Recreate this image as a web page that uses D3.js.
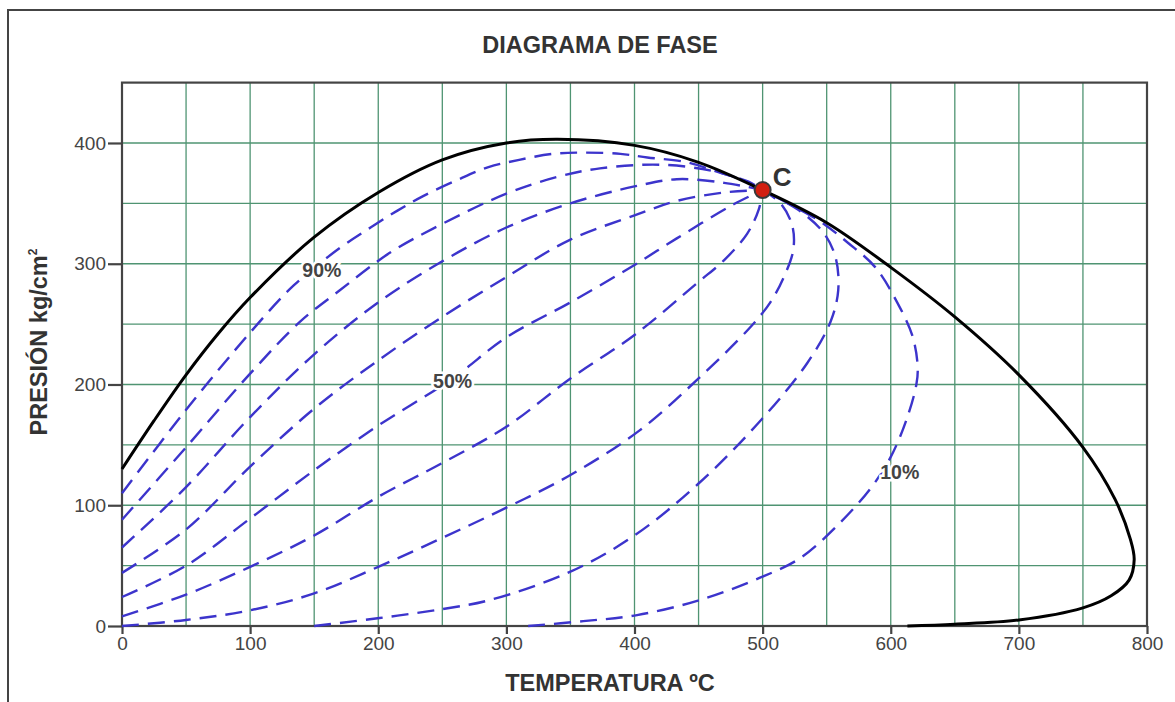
<!DOCTYPE html>
<html>
<head>
<meta charset="utf-8">
<script src="https://cdn.jsdelivr.net/npm/d3@7"></script>
<style>
  body { margin: 0; background: #fff; }
  svg { display: block; font-family: "Liberation Sans", Arial, Helvetica, sans-serif; }
</style>
</head>
<body>
<svg id="chart" width="1175" height="702"></svg>
<script>
// ---- data: temperature (ºC) / pressure (kg/cm²) ----
const tempTicks = [0, 100, 200, 300, 400, 500, 600, 700, 800];
const presTicks = [0, 100, 200, 300, 400];

// phase envelope (bubble + dew curve)
const envelope = [
  [0,130],[25,170],[50,208],[75,242],[100,272],[150,322],[200,359],[250,386],
  [300,400],[340,403],[400,398],[450,384],[500,361],[550,334],[600,297],
  [650,256],[700,208],[750,148],[775,105],[787,72],[790,55],[786,38],
  [772,25],[750,15],[700,5],[650,1.5],[613,0]
];

// iso-quality lines (vapour fraction)
const q90 = [[0,110],[50,179],[100,243],[134,282],[170,313],[194,330],[215,344],[235,356],[261,369],[286,380],[310,386],[336,391],[361,392],[389,391],[410,388],[441,384],[468,375],[489,368],[500,361]];
const q80 = [[0,88],[50,148],[100,209],[139,252],[170,278],[209,309],[250,333],[300,358],[340,372],[373,379],[420,382],[460,377],[485,369],[500,361]];
const q70 = [[0,65],[50,115],[100,173],[150,225],[200,268],[250,302],[300,330],[350,350],[400,364],[433,370],[470,367],[500,361]];
const q60 = [[0,44],[50,80],[100,132],[150,180],[200,220],[250,256],[300,289],[350,320],[400,340],[433,352],[470,359],[500,361]];
const q50 = [[0,24],[50,50],[100,89],[150,129],[200,166],[258,205],[300,239],[350,268],[400,299],[433,321],[477,349],[500,361]];
const q40 = [[0,8],[50,26],[100,49],[150,75],[200,107],[250,135],[300,165],[350,205],[400,241],[450,285],[470,303],[488,325],[497,345],[500,361]];
const q30 = [[0,0],[50,5],[100,13],[150,27],[200,49],[250,73],[300,98],[350,125],[404,162],[450,205],[490,247],[506,268],[517,290],[524,312],[523,332],[514,350],[500,361]];
const q20 = [[150,0],[201,6.6],[250,14],[287,21.5],[350,45],[400,75],[450,118],[500,172],[535,218],[553,252],[559,278],[557,305],[548,325],[530,343],[500,361]];
const q10 = [[317,0],[360,4],[402,9],[451,21.5],[498,40],[529,56],[560,85],[585,115],[600,140],[612,170],[620,200],[621,215],[617,240],[605,268],[588,297],[567,317],[545,335],[520,350],[500,361]];
const qualityLines = [q90, q80, q70, q60, q50, q40, q30, q20, q10];

// labelled iso-lines and the critical point
const lineLabels = [
  { text: "90%", T: 156, P: 295 },
  { text: "50%", T: 258, P: 203 },
  { text: "10%", T: 607, P: 127 }
];
const critical = { T: 500, P: 361, name: "C" };

// ---- layout ----
const svg = d3.select("#chart");
const x = d3.scaleLinear().domain([0, 800]).range([122, 1147]);
const y = d3.scaleLinear().domain([0, 450]).range([626, 82.6]);
const ink = "#444";

// outer frame
svg.append("path")
  .attr("d", "M8,702V10H1175")
  .attr("fill", "none").attr("stroke", ink).attr("stroke-width", 2);

// title
svg.append("text")
  .attr("x", 600).attr("y", 53)
  .attr("text-anchor", "middle")
  .attr("font-size", 23.5).attr("font-weight", "bold").attr("fill", "#333")
  .text("DIAGRAMA DE FASE");

// grid every 50 units
const gridColor = "#4f9472";
const g = svg.append("g");
g.selectAll("line.v").data(d3.range(50, 800, 50)).join("line")
  .attr("x1", d => x(d)).attr("x2", d => x(d))
  .attr("y1", y(0)).attr("y2", y(450))
  .attr("stroke", gridColor).attr("stroke-width", 1.3);
g.selectAll("line.h").data(d3.range(50, 450, 50)).join("line")
  .attr("y1", d => y(d)).attr("y2", d => y(d))
  .attr("x1", x(0)).attr("x2", x(800))
  .attr("stroke", gridColor).attr("stroke-width", 1.3);

// axes
const yAxis = svg.append("g").attr("transform", `translate(${x(0)},0)`)
  .call(d3.axisLeft(y).tickValues(presTicks).tickSize(14).tickPadding(2));
const xAxis = svg.append("g").attr("transform", `translate(0,${y(0)})`)
  .call(d3.axisBottom(x).tickValues(tempTicks).tickSize(8).tickPadding(3));
[xAxis, yAxis].forEach(a => {
  a.select(".domain").remove();
  a.selectAll(".tick line").attr("stroke", ink).attr("stroke-width", 2.2);
  a.selectAll(".tick text").attr("fill", ink).attr("font-size", 19)
    .attr("font-family", "'Liberation Sans', Arial, sans-serif");
});

// plot border
svg.append("rect")
  .attr("x", x(0)).attr("y", y(450))
  .attr("width", x(800) - x(0)).attr("height", y(0) - y(450))
  .attr("fill", "none").attr("stroke", ink).attr("stroke-width", 2.2);

// axis titles
svg.append("text")
  .attr("x", 610).attr("y", 691)
  .attr("text-anchor", "middle")
  .attr("font-size", 23.5).attr("font-weight", "bold").attr("fill", "#333")
  .text("TEMPERATURA ºC");

const yt = svg.append("text")
  .attr("transform", "translate(47,342) rotate(-90)")
  .attr("text-anchor", "middle")
  .attr("font-size", 23.5).attr("font-weight", "bold").attr("fill", "#333");
yt.append("tspan").text("PRESIÓN kg/cm");
yt.append("tspan").attr("font-size", 12).attr("dy", -10).text("2");

// curves
const line = d3.line()
  .x(d => x(d[0])).y(d => y(d[1]))
  .curve(d3.curveCatmullRom.alpha(0.5));

svg.append("g").selectAll("path").data(qualityLines).join("path")
  .attr("d", line)
  .attr("fill", "none")
  .attr("stroke", "#3c34cc")
  .attr("stroke-width", 2.4)
  .attr("stroke-dasharray", "17,9");

// line labels with a white knock-out
svg.append("g").selectAll("text").data(lineLabels).join("text")
  .attr("x", d => x(d.T)).attr("y", d => y(d.P))
  .attr("dy", "0.35em")
  .attr("text-anchor", "middle")
  .attr("font-size", 19.5).attr("font-weight", "bold")
  .attr("fill", ink)
  .attr("stroke", "#fff").attr("stroke-width", 5)
  .attr("paint-order", "stroke")
  .text(d => d.text);

svg.append("path")
  .datum(envelope)
  .attr("d", line)
  .attr("fill", "none")
  .attr("stroke", "#000")
  .attr("stroke-width", 3);

// critical point
svg.append("circle")
  .attr("cx", x(critical.T)).attr("cy", y(critical.P)).attr("r", 8)
  .attr("fill", "#d21f10").attr("stroke", "#3a3a3a").attr("stroke-width", 2);
svg.append("text")
  .attr("x", x(critical.T) + 10).attr("y", y(critical.P) - 4)
  .attr("font-size", 26).attr("font-weight", "bold").attr("fill", "#333")
  .text(critical.name);
</script>
</body>
</html>
